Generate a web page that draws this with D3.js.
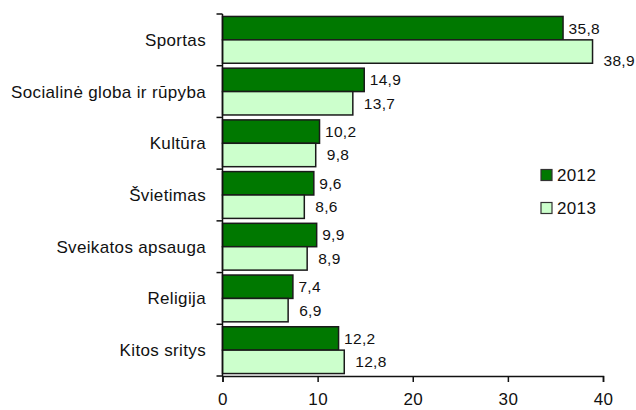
<!DOCTYPE html>
<html><head><meta charset="utf-8">
<script src="https://cdn.jsdelivr.net/npm/d3@7"></script>
<style>body{margin:0;background:#fff}svg{display:block}text{font-family:"Liberation Sans",Arial,sans-serif;fill:#111}</style>
</head><body><svg id="c" width="636" height="410"></svg>
<script>
const categories = ["Sportas","Socialinė globa ir rūpyba","Kultūra","Švietimas","Sveikatos apsauga","Religija","Kitos sritys"];
const series = ["2012","2013"];
const values2012 = [35.8,14.9,10.2,9.6,9.9,7.4,12.2];
const values2013 = [38.9,13.7,9.8,8.6,8.9,6.9,12.8];
const xTicks = [0,10,20,30,40];
const colors = ["#007800","#ccffcc"];

const svg = d3.select("#c");
const x = d3.scaleLinear().domain([0,40]).range([222.5,603]);
const y = d3.scaleBand().domain(categories).range([14,376]).paddingInner(0).paddingOuter(0);
const ys = d3.scaleBand().domain(series).range([0,y.bandwidth()]).paddingInner(0).paddingOuter(0.105);
const data = categories.map((c,i)=>({c, vals:[values2012[i],values2013[i]]}));
const fmt = v => d3.format(".1f")(v).replace(".",",");

const g = svg.append("g");
data.forEach(d=>{
  d.vals.forEach((v,j)=>{
    const s = series[j];
    g.append("rect")
      .attr("x",x(0)).attr("y",y(d.c)+ys(s))
      .attr("width",x(v)-x(0)).attr("height",ys.bandwidth())
      .attr("fill",colors[j]).attr("stroke","#1a1a1a").attr("stroke-width",1.5);
    const big = j===1 && v>30;
    g.append("text")
      .attr("x",x(v)+(j===0?5.5:11)).attr("y",y(d.c)+ys(s)+ys.bandwidth()/2+(big?9:0))
      .attr("dy","0.35em").attr("font-size",15.5).attr("letter-spacing",0.3).text(fmt(v));
  });
});

// y axis
const yAxis = svg.append("g").attr("transform",`translate(${x(0)},0)`);
yAxis.append("line").attr("x1",0).attr("x2",0).attr("y1",14).attr("y2",376).attr("stroke","#111").attr("stroke-width",1.5);
const bounds = categories.map(c=>y(c)).concat([y.range()[1]]);
yAxis.selectAll("line.t").data(bounds).enter().append("line")
  .attr("x1",-6).attr("x2",0).attr("y1",d=>d).attr("y2",d=>d).attr("stroke","#111").attr("stroke-width",1.5);
svg.append("g").selectAll("text").data(categories).enter().append("text")
  .attr("x",206).attr("y",d=>y(d)+y.bandwidth()/2).attr("dy","0.35em")
  .attr("text-anchor","end").attr("font-size",17).attr("letter-spacing",0.35).text(d=>d);

// x axis
const xAxis = d3.axisBottom(x).tickValues(xTicks).tickSize(6).tickPadding(11).tickFormat(d3.format("d"));
const xg = svg.append("g").attr("transform","translate(0,376)").call(xAxis);
xg.select(".domain").attr("stroke","#111").attr("stroke-width",1.5);
xg.selectAll(".tick line").attr("stroke","#111").attr("stroke-width",1.5);
xg.selectAll("text").attr("font-size",17).attr("letter-spacing",0.35).attr("fill","#111").attr("font-family","Liberation Sans, Arial, sans-serif");

// legend
const lg = svg.append("g");
series.forEach((s,j)=>{
  const yy = 175 + j*33;
  lg.append("rect").attr("x",541).attr("y",yy-5.5).attr("width",11).attr("height",11)
    .attr("fill",colors[j]).attr("stroke","#333").attr("stroke-width",1.2);
  lg.append("text").attr("x",557).attr("y",yy).attr("dy","0.35em").attr("font-size",17).attr("letter-spacing",0.35).text(s);
});
</script></body></html>
